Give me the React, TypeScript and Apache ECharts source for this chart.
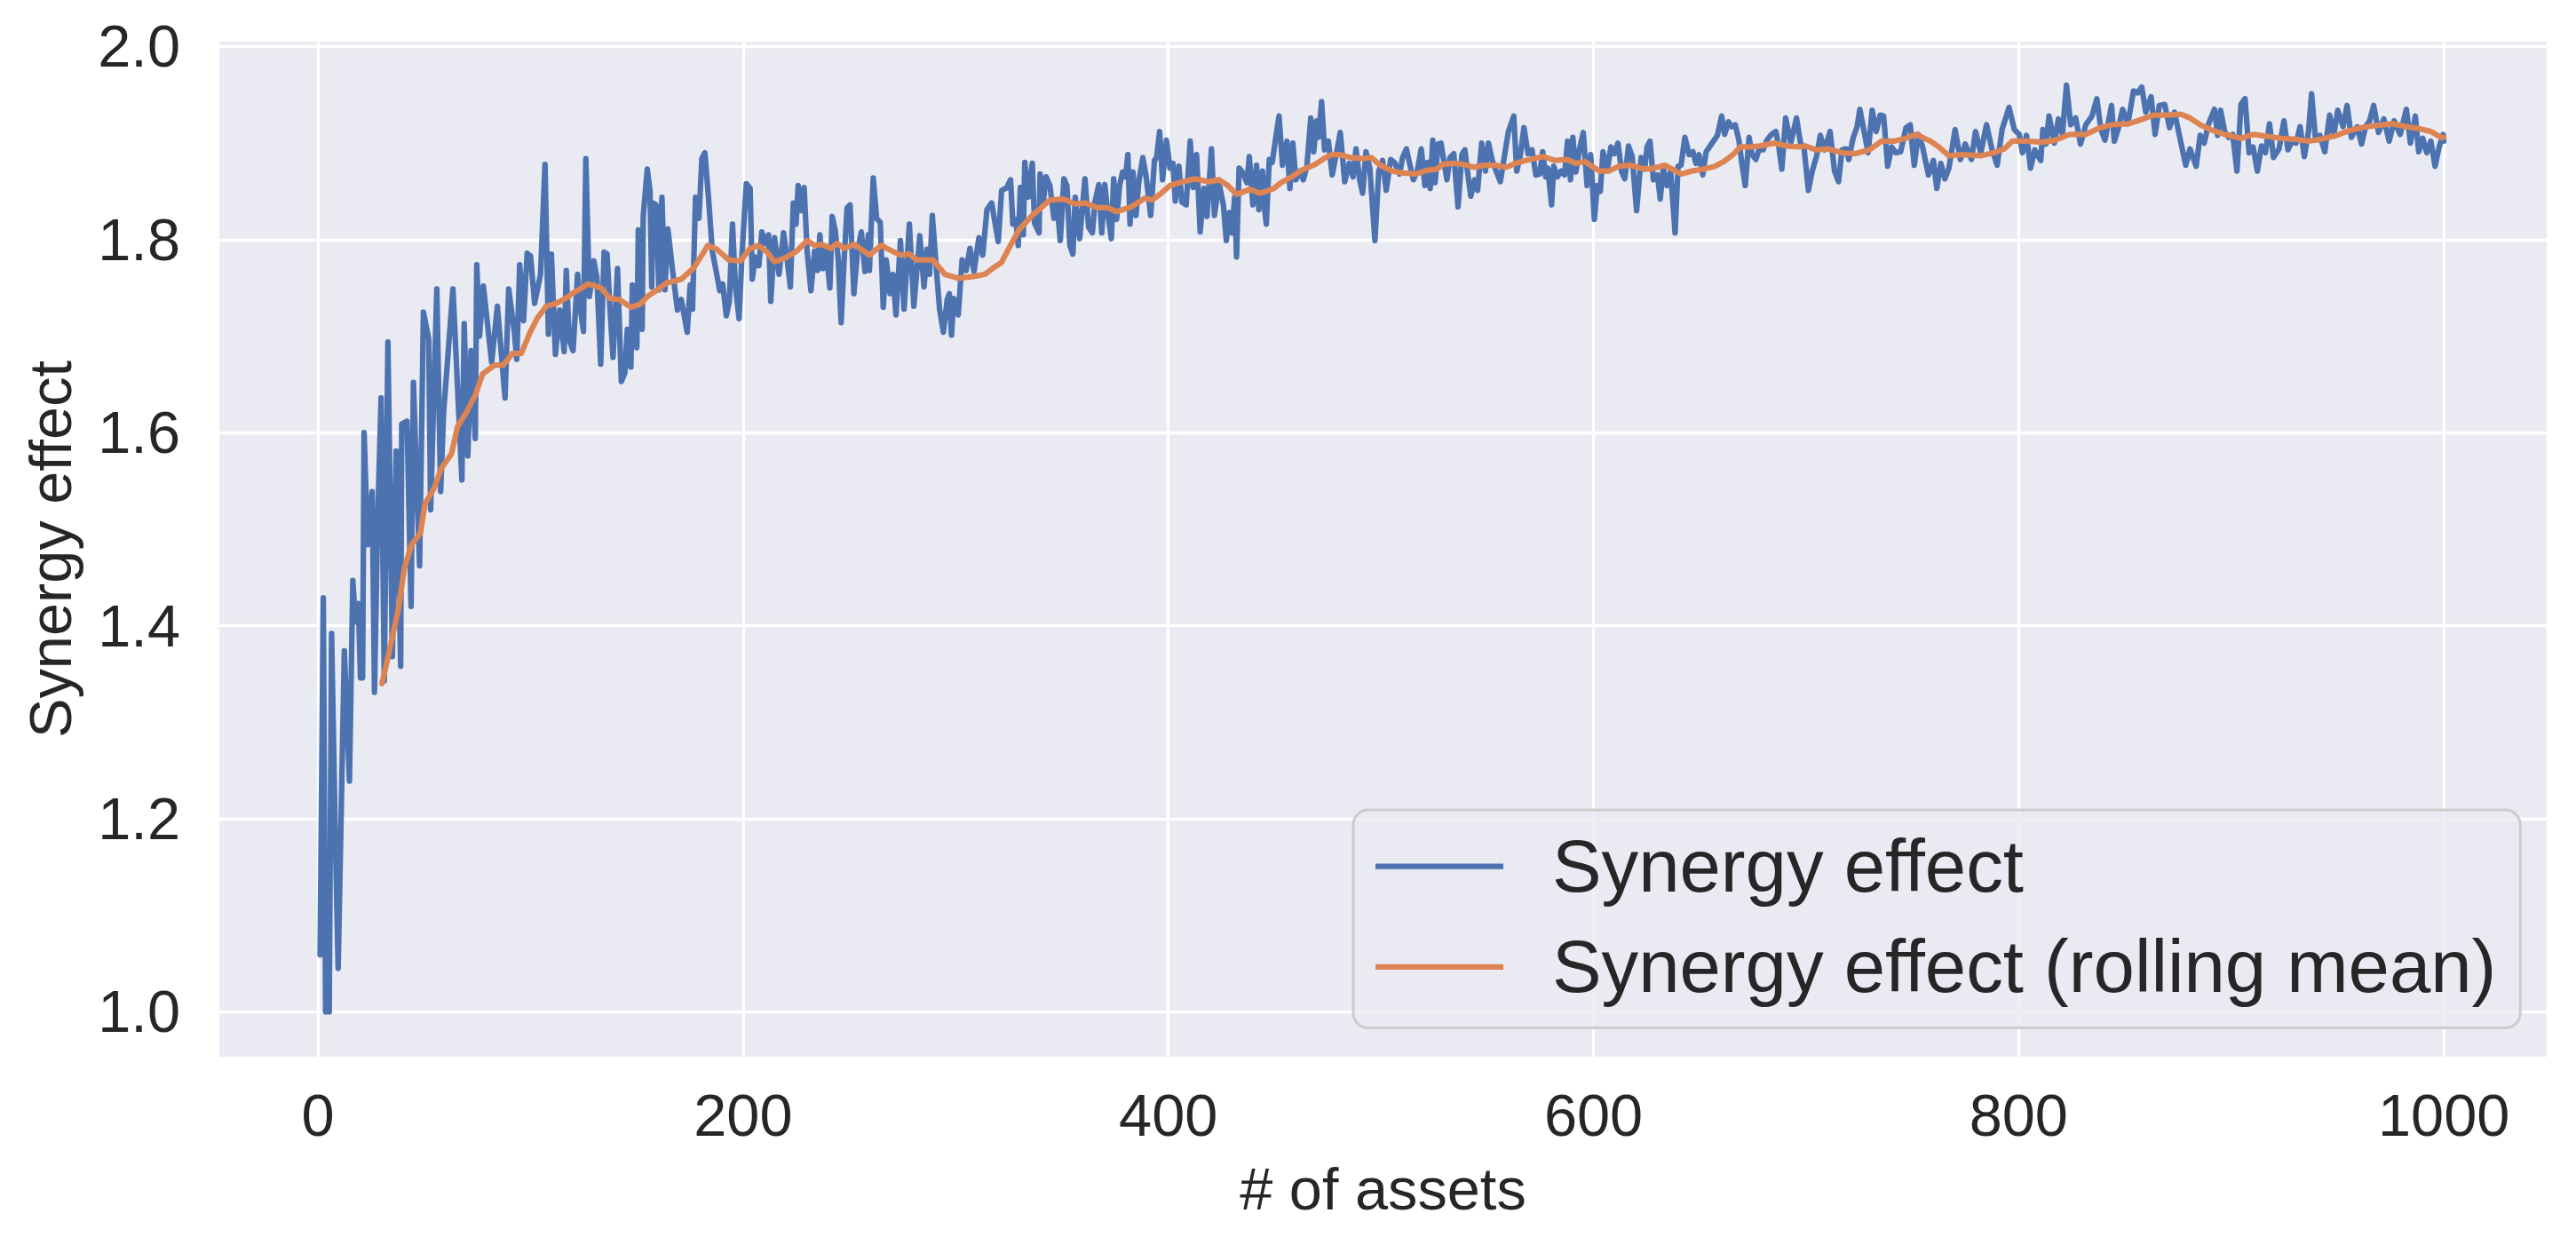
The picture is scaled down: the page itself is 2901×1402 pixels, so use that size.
import React, { useEffect, useRef } from "react";
import * as echarts from "echarts";

const xTicks = [0, 200, 400, 600, 800, 1000];
const yTicks = [1.0, 1.2, 1.4, 1.6, 1.8, 2.0];
const seriesNames = ["Synergy effect", "Synergy effect (rolling mean)"];

const synergy: [number, number][] = [
  [1,1.059],[2.5,1.429],[3.6,1.0],[5.3,1.0],[6.4,1.392],[8,1.2],[9.5,1.045],[12.4,1.374],[14.8,1.239],[16.4,1.447],[17.6,1.404],[19,1.423],[20,1.346],[21,1.346],[21.7,1.6],[23.4,1.484],[25.5,1.539],[26.6,1.331],[28,1.502],[29.7,1.636],[31.2,1.343],[32.9,1.694],[35,1.368],[36.8,1.581],[38.9,1.358],[39.4,1.609],[41.9,1.612],[43.8,1.42],[44.9,1.652],[47.8,1.462],[49.6,1.725],[52.1,1.697],[53,1.52],[55.9,1.749],[57.7,1.539],[59.1,1.621],[63.5,1.749],[67.7,1.551],[68.8,1.713],[70.5,1.576],[72,1.685],[74,1.594],[74.7,1.774],[76,1.7],[77.8,1.752],[81.7,1.673],[84.4,1.731],[88,1.636],[89.7,1.749],[92.4,1.704],[93.5,1.676],[94.9,1.774],[96.7,1.716],[98.4,1.786],[100,1.783],
  [101.9,1.734],[104.7,1.764],[106.8,1.878],[108.4,1.702],[109.8,1.785],[111.7,1.681],[113.7,1.727],[115.8,1.684],[116.8,1.768],[118.2,1.696],[120,1.685],[122.1,1.764],[123.5,1.727],[124.9,1.705],[126,1.884],[127.7,1.741],[129.8,1.778],[131.2,1.761],[133,1.671],[134.6,1.787],[136,1.785],[137.4,1.727],[138.8,1.678],[140.9,1.77],[142.7,1.653],[144.4,1.662],[145.5,1.707],[147.2,1.668],[147.9,1.753],[150,1.688],[150.7,1.81],[152.5,1.707],[153,1.824],[154.9,1.873],[156.2,1.85],[157,1.751],[157.6,1.838],[159,1.836],[160.4,1.748],[161.8,1.844],[163.2,1.748],[164.6,1.811],[166.7,1.77],[169.1,1.727],[170.9,1.738],[173.7,1.704],[175.1,1.753],[176.2,1.728],[177.6,1.844],[179.2,1.822],[180.6,1.884],[182,1.89],[183.7,1.844],[185.5,1.788],[187.6,1.764],[189,1.747],[190.4,1.754],[192.1,1.721],[193.5,1.736],[195,1.816],[196.4,1.751],[198.1,1.718],[199.4,1.782],
  [201.5,1.858],[203.3,1.853],[204.3,1.759],[205.7,1.782],[207.4,1.773],[208.8,1.808],[210.6,1.796],[212,1.805],[213,1.736],[214.8,1.802],[216.9,1.764],[219,1.807],[220.3,1.787],[222.2,1.751],[223.6,1.838],[224.9,1.816],[225.9,1.856],[227.3,1.83],[228.7,1.854],[230.1,1.788],[231.9,1.747],[233.6,1.788],[235,1.768],[236.1,1.805],[237.5,1.77],[238.9,1.791],[240.8,1.75],[241.9,1.824],[243.3,1.81],[244.7,1.781],[246.1,1.714],[247.5,1.779],[248.9,1.833],[250.3,1.836],[252.1,1.744],[253.8,1.788],[255.6,1.808],[257.3,1.767],[258.9,1.805],[259.4,1.768],[261.2,1.864],[262.8,1.822],[264.5,1.818],[265.9,1.73],[267.3,1.779],[269.1,1.744],[270.5,1.764],[271.9,1.722],[274,1.799],[275.7,1.728],[278.2,1.816],[280.3,1.731],[283.1,1.804],[285.1,1.751],[286.5,1.79],[287.7,1.764],[289,1.825],[291,1.767],[292.4,1.728],[294.2,1.704],[296,1.738],[297,1.744],[298,1.701],[299.1,1.739],
  [301.2,1.722],[303,1.779],[304.9,1.768],[306.7,1.791],[308.6,1.767],[310.9,1.802],[312.7,1.784],[314.7,1.831],[316.9,1.838],[317.9,1.825],[320,1.798],[321.6,1.851],[324.1,1.854],[325.8,1.862],[326.9,1.816],[328.3,1.821],[329.4,1.794],[330.4,1.854],[331.8,1.805],[332.5,1.88],[334.2,1.844],[336,1.879],[337.1,1.817],[339.2,1.807],[339.7,1.868],[341.1,1.837],[342.5,1.865],[344.3,1.856],[346.2,1.822],[347.5,1.84],[349.2,1.799],[350.9,1.863],[352.3,1.856],[353.7,1.794],[355.1,1.785],[356.2,1.844],[358.3,1.801],[360.8,1.863],[362.5,1.813],[364.3,1.807],[365.5,1.839],[367.3,1.857],[368.7,1.807],[370.1,1.857],[371.5,1.828],[373.2,1.801],[374.3,1.863],[375.7,1.821],[377.1,1.856],[378.5,1.87],[379.9,1.865],[381,1.888],[382,1.816],[383.4,1.87],[384.8,1.825],[386.1,1.859],[388,1.885],[389.6,1.865],[391.7,1.825],[393.5,1.882],[394.5,1.885],[395.9,1.912],[397.3,1.862],[399.1,1.903],
  [400.8,1.874],[402.2,1.879],[403.3,1.84],[405,1.876],[406.4,1.839],[408.4,1.836],[410.3,1.902],[411.7,1.854],[413.3,1.888],[415,1.808],[416.8,1.853],[418.2,1.824],[420.3,1.894],[421.7,1.825],[423.8,1.859],[425.9,1.836],[427.3,1.799],[428.7,1.828],[430,1.807],[431.2,1.844],[432.1,1.782],[433.3,1.874],[434.9,1.87],[437,1.859],[438.1,1.886],[439.8,1.836],[441.5,1.877],[442.6,1.831],[444.3,1.871],[445.4,1.83],[446.1,1.816],[447.5,1.883],[448.9,1.88],[450.7,1.908],[452.1,1.928],[453.7,1.877],[455.8,1.902],[457.2,1.853],[458.6,1.9],[460,1.862],[461.8,1.871],[463.5,1.862],[465.2,1.876],[467,1.926],[468.4,1.891],[469.8,1.923],[470.7,1.906],[472.1,1.943],[473.5,1.893],[475.3,1.902],[477.1,1.867],[478.8,1.886],[480.9,1.911],[483,1.86],[485.1,1.879],[486.9,1.865],[488.3,1.894],[490,1.862],[491.4,1.848],[493,1.891],[494.8,1.874],[497.2,1.799],[499,1.871],
  [500.8,1.882],[502.5,1.851],[504.6,1.883],[506.7,1.879],[508.8,1.868],[510.2,1.885],[512,1.894],[513.7,1.877],[515.3,1.862],[517.1,1.871],[519,1.894],[520.7,1.856],[522,1.88],[523.2,1.853],[524.4,1.903],[525.5,1.859],[526.9,1.899],[528.3,1.9],[529.7,1.88],[531.1,1.862],[532.5,1.885],[534.3,1.889],[536.3,1.834],[538.1,1.888],[539.5,1.893],[540.9,1.868],[542.3,1.845],[544.1,1.862],[545.5,1.851],[547.4,1.9],[549.2,1.871],[550.6,1.9],[552.4,1.882],[554.4,1.87],[556.2,1.86],[558.3,1.889],[560,1.912],[562.5,1.928],[563.9,1.871],[565.5,1.886],[567.3,1.916],[569.2,1.889],[571.1,1.893],[572.9,1.867],[574.7,1.868],[576.1,1.891],[577.5,1.865],[578.5,1.874],[580.3,1.836],[581.3,1.876],[583.1,1.865],[584.8,1.871],[586.4,1.867],[587.8,1.902],[589.2,1.862],[590.3,1.906],[591.7,1.87],[593.4,1.893],[595.2,1.911],[597,1.856],[598.7,1.888],
  [600.4,1.821],[601.8,1.856],[603.2,1.85],[604.5,1.891],[606.4,1.871],[608.2,1.896],[609.8,1.889],[611.5,1.9],[613.3,1.87],[614.7,1.863],[616.5,1.897],[618.2,1.886],[620.3,1.83],[622.4,1.885],[624.1,1.873],[625.2,1.896],[626.6,1.902],[628.2,1.862],[630.1,1.867],[631.4,1.842],[632.8,1.874],[634.6,1.856],[636.3,1.871],[638.4,1.807],[639.8,1.876],[641.2,1.877],[643,1.906],[645,1.888],[646.8,1.891],[648.2,1.879],[649.6,1.888],[651.4,1.867],[653,1.891],[655.8,1.9],[658.3,1.908],[660.3,1.928],[661.7,1.909],[663.5,1.922],[664.9,1.917],[666.7,1.919],[668.4,1.903],[669.8,1.879],[671.4,1.856],[673.2,1.906],[674.6,1.888],[676.4,1.883],[677.8,1.893],[679.8,1.893],[681.6,1.903],[683.7,1.909],[685.8,1.912],[687.2,1.896],[688.6,1.873],[690.4,1.926],[692.8,1.9],[695.5,1.926],[697.4,1.9],[699,1.896],
  [701.1,1.851],[702.9,1.871],[704.9,1.886],[706.7,1.908],[708.8,1.893],[711.3,1.912],[713.4,1.871],[715.3,1.86],[716.9,1.893],[718.8,1.894],[720.1,1.883],[722.1,1.905],[724,1.917],[725.3,1.935],[727.3,1.912],[729.2,1.89],[731.1,1.934],[733,1.912],[734.9,1.929],[736.5,1.928],[738.4,1.876],[740.3,1.896],[742.2,1.89],[744.5,1.891],[747,1.916],[749,1.919],[750.9,1.877],[752.8,1.909],[754.7,1.897],[757.6,1.867],[759.9,1.882],[761.5,1.853],[763.4,1.879],[765.3,1.863],[767.2,1.874],[770.1,1.914],[772.6,1.883],[774.9,1.899],[777.8,1.883],[779.7,1.912],[782.2,1.89],[784.9,1.919],[787.4,1.894],[789.9,1.877],[792.2,1.914],[795.5,1.937],[798,1.914],
  [800.3,1.909],[801.8,1.89],[803.7,1.908],[805.6,1.874],[807.6,1.893],[810.4,1.882],[811.4,1.914],[812.9,1.899],[814.3,1.928],[816.8,1.9],[818.7,1.925],[820.6,1.909],[822.5,1.96],[824.5,1.919],[826.8,1.926],[829.1,1.899],[831.6,1.919],[834.5,1.928],[836.8,1.946],[838.7,1.914],[840.6,1.903],[843.7,1.939],[845,1.902],[847,1.916],[848.9,1.935],[851.4,1.92],[854,1.954],[856,1.952],[857.9,1.958],[859.8,1.932],[862.3,1.948],[864.2,1.909],[866.2,1.939],[868.7,1.94],[871,1.916],[873.3,1.932],[875.8,1.906],[878.6,1.877],[880.6,1.894],[883.5,1.876],[885.4,1.908],[887.3,1.9],[889.2,1.919],[892.1,1.935],[893.6,1.908],[895,1.934],[896.9,1.912],[898.8,1.906],
  [900.7,1.909],[902.7,1.871],[904.6,1.94],[906.5,1.946],[908.4,1.89],[910.3,1.896],[912.3,1.871],[914.2,1.897],[916.1,1.89],[918,1.92],[919.9,1.885],[922.5,1.894],[924.8,1.923],[926.7,1.893],[928.6,1.902],[930.5,1.9],[932.4,1.917],[934.4,1.886],[936.3,1.911],[937.8,1.951],[939.7,1.903],[941.7,1.908],[944,1.891],[946.3,1.929],[948.2,1.908],[950.1,1.934],[952.6,1.917],[954.5,1.939],[956.5,1.906],[959.3,1.917],[961.3,1.899],[963.2,1.917],[965.1,1.923],[967,1.939],[969.3,1.911],[971.8,1.925],[974.3,1.902],[976.6,1.923],[979.5,1.909],[982.4,1.935],[984.3,1.9],[986.6,1.928],[988.2,1.891],[990.1,1.905],[992,1.89],[993.9,1.902],[995.9,1.876],[997.8,1.896],[999.7,1.909],[1000,1.902]
];

const rollingMean: [number, number][] = [
  [30.1,1.34],[33.6,1.374],[37.8,1.417],[40.6,1.459],[44,1.484],[48.2,1.496],[50.3,1.526],[54.5,1.542],[58,1.563],[62.8,1.578],[65.6,1.606],[69.8,1.621],[74,1.639],[77.5,1.661],[83,1.67],[87.2,1.67],[91.4,1.682],[95.6,1.682],[99.8,1.704],[103.3,1.719],[107.4,1.731],[112.3,1.734],[117.9,1.741],
  [119.3,1.744],[124.2,1.75],[127,1.754],[133.2,1.75],[137.4,1.739],[141.6,1.738],[147.2,1.73],[151.4,1.733],[155.5,1.742],[159.7,1.748],[163.9,1.755],[170.9,1.759],[176.5,1.77],[180.6,1.784],[183.4,1.794],[187.6,1.79],[193.2,1.779],[198.8,1.778],[202.9,1.79],[207.1,1.794],[211.3,1.787],[214.8,1.777],[219.7,1.781],[225.2,1.788],[230.1,1.799],[233.6,1.794],[237,1.795],[241.3,1.791],[244.1,1.796],[247.5,1.791],[252.4,1.795],[259.4,1.784],[265,1.794],[268.4,1.79],[274,1.784],[278.2,1.785],[281.7,1.779],[289.3,1.779],[294.9,1.764],[301.2,1.76],[308.8,1.762],[313.7,1.764],[317.9,1.771],
  [321.4,1.776],[325.5,1.793],[329.7,1.81],[336,1.825],[340.2,1.833],[344.3,1.841],[350.6,1.842],[356.2,1.837],[361.1,1.838],[366.6,1.833],[371.5,1.833],[375.7,1.829],[382.7,1.834],[389,1.843],[392.4,1.841],[396.6,1.848],[400.8,1.856],[405,1.859],[412.6,1.863],[418.9,1.86],[423.8,1.862],[428,1.856],[432.1,1.847],[438.4,1.852],[443.3,1.848],[449.6,1.853],[453,1.859],[458,1.865],[462.8,1.872],[469.1,1.878],[473.2,1.884],[476.7,1.888],[480.9,1.888],[485.8,1.885],[491.4,1.884],[495.5,1.885],[499.7,1.877],[505.3,1.871],[510.9,1.869],[516.5,1.868],
  [522,1.872],[526.2,1.873],[529,1.878],[533.9,1.879],[538.8,1.878],[543.6,1.875],[548.5,1.877],[554.1,1.877],[559,1.875],[563.2,1.879],[568,1.882],[572.2,1.884],[576.4,1.886],[582,1.882],[587.5,1.883],[591.7,1.879],[595.9,1.881],[600.1,1.875],[602.9,1.871],[607.1,1.871],[611.9,1.876],[617.5,1.877],[622.4,1.874],[626.6,1.873],[633.5,1.877],[637,1.873],[641.2,1.868],[646.1,1.871],[651.6,1.873],[657.2,1.876],[661.4,1.881],[665.6,1.888],[669.1,1.896],[673.9,1.896],[678.1,1.897],[685.1,1.9],[690.7,1.897],[696.2,1.896],[699.7,1.897],[704.6,1.893],[710.2,1.894],
  [717.3,1.89],[723,1.889],[729.8,1.893],[735.5,1.902],[741.3,1.902],[747,1.905],[751.8,1.909],[758.6,1.902],[762.4,1.896],[767.2,1.887],[773,1.888],[782.6,1.887],[788.3,1.89],[793.2,1.894],[797,1.902],[803.7,1.902],[811.4,1.901],[817.2,1.903],[823.9,1.909],[831.6,1.909],[838.3,1.916],[844.1,1.919],[851.8,1.92],[858.5,1.925],[863.3,1.929],[870,1.929],[876.3,1.93],[880.6,1.926],[885.4,1.919],[890.2,1.914],[896.9,1.909],[904.6,1.905],[910.3,1.909],[917.1,1.907],[922.8,1.905],[930.5,1.904],[936.3,1.902],[942.1,1.904],[949.7,1.908],[955.5,1.913],[961.3,1.916],[967,1.918],[975.7,1.92],[982.4,1.917],[988.2,1.915],[993.9,1.912],[998.7,1.906],[1000,1.906]
];

const FONT = "'Liberation Sans', Arial, Helvetica, sans-serif";
const TEXT = "#262626";

export default function App() {
  const ref = useRef<HTMLDivElement>(null);
  useEffect(() => {
    if (!ref.current) return;
    const chart = echarts.init(ref.current, null, { renderer: "svg" });
    chart.setOption({
      animation: false,
      backgroundColor: "#ffffff",
      textStyle: { fontFamily: FONT, color: TEXT },
      grid: {
        left: 247,
        top: 47,
        width: 2621,
        height: 1143,
        show: true,
        backgroundColor: "#EAEAF2",
        borderWidth: 0,
        outerBoundsMode: "none",
        containLabel: false,
      },
      xAxis: {
        type: "value",
        min: -46.4,
        max: 1048.4,
        name: "# of assets",
        nameLocation: "middle",
        nameGap: 149,
        nameTextStyle: { fontSize: 66.7, fontFamily: FONT, color: TEXT, verticalAlign: "middle", lineHeight: 66.7 },
        axisLine: { show: false },
        axisTick: { show: false, customValues: xTicks },
        axisLabel: {
          customValues: xTicks,
          formatter: (v: number) => String(Math.round(v)),
          fontSize: 66.7,
          fontFamily: FONT,
          color: TEXT,
          margin: 33,
          lineHeight: 66.7,
        },
        splitLine: { show: true, lineStyle: { color: "#ffffff", width: 3.3 } },
      },
      yAxis: {
        type: "value",
        min: 0.9535,
        max: 2.005,
        name: "Synergy effect",
        nameLocation: "middle",
        nameGap: 190,
        nameRotate: 90,
        nameTextStyle: { fontSize: 66.7, fontFamily: FONT, color: TEXT, verticalAlign: "middle", lineHeight: 66.7 },
        axisLine: { show: false },
        axisTick: { show: false, customValues: yTicks },
        axisLabel: {
          customValues: yTicks,
          formatter: (v: number) => v.toFixed(1),
          fontSize: 66.7,
          fontFamily: FONT,
          color: TEXT,
          margin: 44,
        },
        splitLine: { show: true, lineStyle: { color: "#ffffff", width: 3.3 } },
      },
      legend: {
        orient: "vertical",
        left: 1524,
        top: 912,
        selectedMode: false,
        icon: "rect",
        itemWidth: 144,
        itemHeight: 6.25,
        itemGap: 30,
        padding: [22, 27, 27, 25],
        backgroundColor: "rgba(234,234,242,0.8)",
        borderColor: "#cccccc",
        borderWidth: 3,
        borderRadius: 17,
        textStyle: {
          fontSize: 83.3,
          fontFamily: FONT,
          color: TEXT,
          lineHeight: 83.3,
          padding: [0, 0, 0, 50],
        },
        data: seriesNames,
      },
      series: [
        {
          name: seriesNames[0],
          type: "line",
          data: synergy,
          showSymbol: false,
          symbol: "none",
          color: "#4C72B0",
          lineStyle: { width: 6.25, color: "#4C72B0", join: "round", cap: "round" },
          z: 2,
          silent: true,
        },
        {
          name: seriesNames[1],
          type: "line",
          data: rollingMean,
          showSymbol: false,
          symbol: "none",
          color: "#DD8452",
          lineStyle: { width: 6.25, color: "#DD8452", join: "round", cap: "round" },
          z: 3,
          silent: true,
        },
      ],
    });
    return () => chart.dispose();
  }, []);
  return (
    <div
      ref={ref}
      style={{ position: "absolute", left: 0, top: 0, width: 2901, height: 1402, background: "#fff" }}
    />
  );
}
